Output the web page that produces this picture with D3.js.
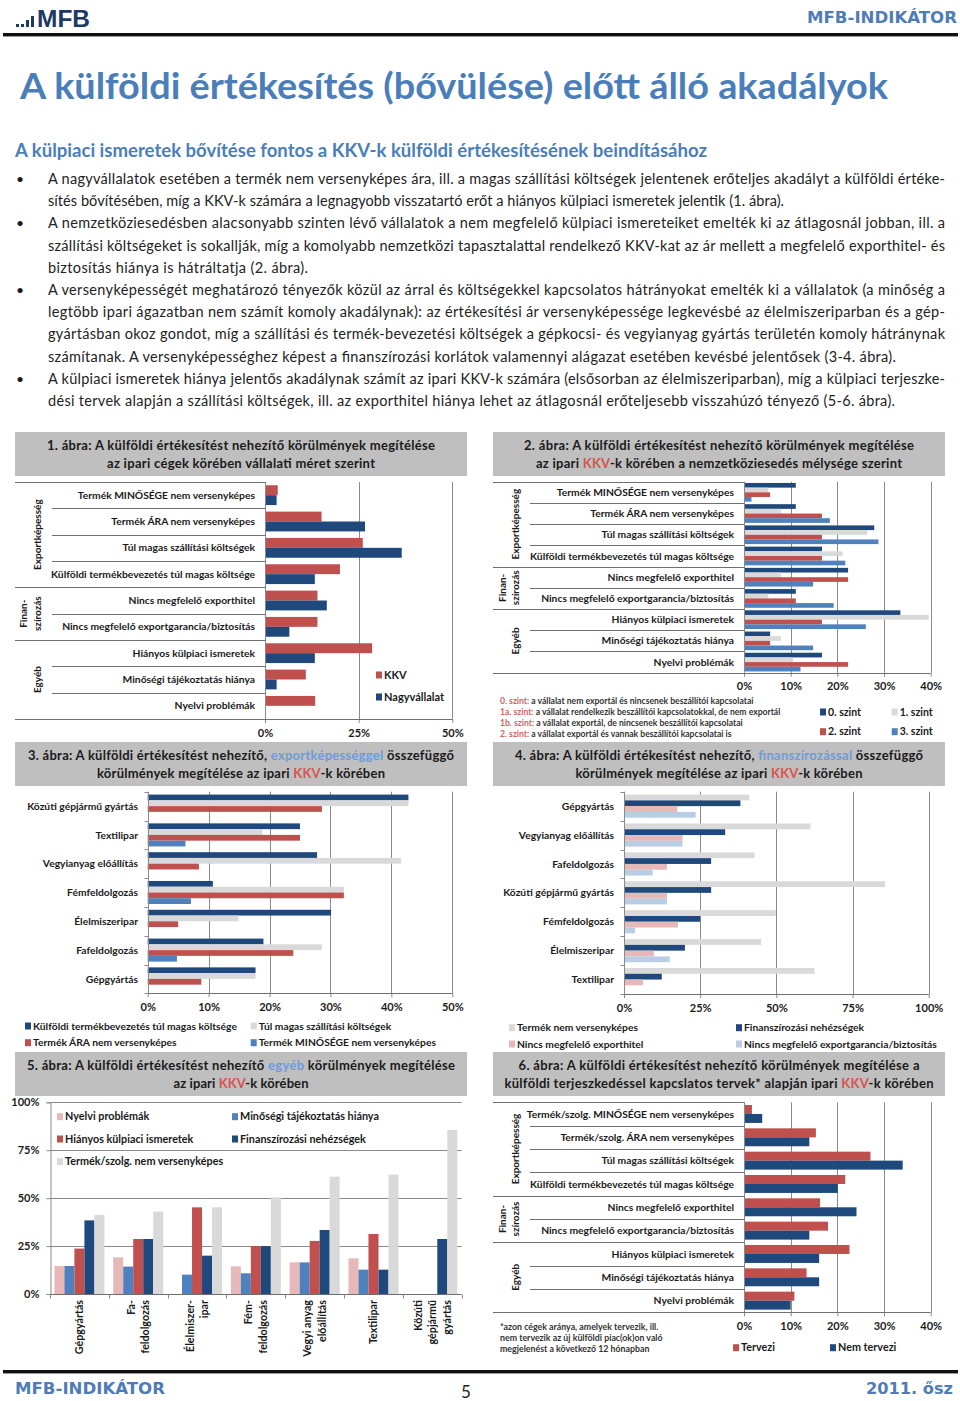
<!DOCTYPE html>
<html><head><meta charset="utf-8">
<script src="https://cdn.jsdelivr.net/npm/d3@7"></script>
<style>
body{margin:0;background:#fff;}
svg text{font-family:Lato,"Open Sans",sans-serif;}
</style></head>
<body><svg id="page" width="960" height="1401"></svg>
<script>
// ---------------- DATA ----------------
const groupNames = [["Exportképesség"], ["Finan-", "szírozás"], ["Egyéb"]];
const groupSizes = [4, 2, 3];

// Chart 1
const c1Categories = ["Termék MINŐSÉGE nem versenyképes", "Termék ÁRA nem versenyképes", "Túl magas szállítási költségek", "Külföldi termékbevezetés túl magas költsége", "Nincs megfelelő exporthitel", "Nincs megfelelő exportgarancia/biztosítás", "Hiányos külpiaci ismeretek", "Minőségi tájékoztatás hiánya", "Nyelvi problémák"];
const c1SeriesNames = ["KKV", "Nagyvállalat"];
const c1KKV = [3.4, 15.1, 26.1, 20.0, 14.0, 14.0, 28.6, 10.9, 13.4];
const c1Nagy = [3.1, 26.7, 36.5, 13.3, 16.5, 6.5, 13.3, 3.1, 0];
const c1Ticks = [0, 25, 50];

// Chart 2
const c2Categories = c1Categories;
const c2SeriesNames = ["0. szint", "1. szint", "2. szint", "3. szint"];
const c2Level0 = [11.1, 11.1, 27.9, 16.7, 22.3, 11.1, 33.5, 5.6, 16.7];
const c2Level1 = [5.2, 7.9, 26.4, 21.1, 7.9, 5.2, 39.6, 7.9, 10.5];
const c2Level2 = [5.6, 16.7, 16.7, 16.7, 22.3, 11.1, 16.7, 5.6, 22.3];
const c2Level3 = [1.6, 18.4, 28.8, 21.7, 14.8, 19.2, 26.1, 14.8, 12.1];
const c2Ticks = [0, 10, 20, 30, 40];
const c2Notes = [
  ["0. szint:", " a vállalat  nem exportál és nincsenek beszállítói kapcsolatai"],
  ["1a. szint:", " a vállalat  rendelkezik beszállítói kapcsolatokkal,  de nem exportál"],
  ["1b. szint:", " a vállalat  exportál, de nincsenek beszállítói kapcsolatai"],
  ["2. szint:", " a vállalat  exportál és vannak beszállítói kapcsolatai  is"]
];

// Chart 3
const c3Categories = ["Közúti gépjármű gyártás", "Textilipar", "Vegyianyag előállítás", "Fémfeldolgozás", "Élelmiszeripar", "Fafeldolgozás", "Gépgyártás"];
const c3SeriesNames = ["Külföldi termékbevezetés túl magas költsége", "Túl magas szállítási költségek", "Termék ÁRA nem versenyképes", "Termék MINŐSÉGE nem versenyképes"];
const c3Bevezetes = [42.8, 25.0, 27.8, 10.7, 30.1, 19.0, 17.7];
const c3Szallitas = [42.8, 18.8, 41.6, 32.2, 14.9, 28.6, 17.7];
const c3Ar = [28.6, 25.0, 8.4, 32.2, 5.0, 23.9, 8.8];
const c3Minoseg = [0, 6.2, 0, 7.1, 0, 4.8, 0];
const c3Ticks = [0, 10, 20, 30, 40, 50];

// Chart 4
const c4Categories = ["Gépgyártás", "Vegyianyag előállítás", "Fafeldolgozás", "Közúti gépjármű gyártás", "Fémfeldolgozás", "Élelmiszeripar", "Textilipar"];
const c4SeriesNames = ["Termék nem versenyképes", "Finanszírozási nehézségek", "Nincs megfelelő exporthitel", "Nincs megfelelő exportgarancia/biztosítás"];
const c4Termek = [41.1, 61.2, 42.8, 85.7, 49.8, 45.0, 62.5];
const c4Finansz = [38.2, 33.2, 28.6, 28.6, 25.0, 20.0, 12.4];
const c4Exporthitel = [17.5, 19.2, 14.1, 14.1, 17.7, 9.8, 6.2];
const c4Garancia = [23.5, 19.2, 9.4, 14.1, 3.6, 15.0, 0];
const c4Ticks = [0, 25, 50, 75, 100];

// Chart 5
const c5Categories = [["Gépgyártás"], ["Fa-", "feldolgozás"], ["Élelmiszer-", "ipar"], ["Fém-", "feldolgozás"], ["Vegyi anyag", "előállítás"], ["Textilipar"], ["Közúti", "gépjármű", "gyártás"]];
const c5SeriesNames = ["Nyelvi problémák", "Minőségi tájékoztatás hiánya", "Hiányos külpiaci ismeretek", "Finanszírozási nehézségek", "Termék/szolg. nem versenyképes"];
const c5Nyelvi = [14.6, 19.1, 0, 14.4, 16.5, 18.6, 0];
const c5Minosegi = [14.6, 14.3, 10.1, 10.8, 16.5, 12.7, 0];
const c5Hianyos = [23.7, 28.7, 45.2, 25.0, 27.7, 31.3, 0];
const c5Finansz = [38.4, 28.7, 20.0, 25.0, 33.4, 12.7, 28.7];
const c5Termek = [41.2, 43.0, 45.2, 50.4, 61.2, 62.3, 85.6];
const c5Ticks = [0, 25, 50, 75, 100];

// Chart 6
const c6Categories = ["Termék/szolg. MINŐSÉGE nem versenyképes", "Termék/szolg. ÁRA nem versenyképes", "Túl magas szállítási költségek", "Külföldi termékbevezetés túl magas költsége", "Nincs megfelelő exporthitel", "Nincs megfelelő exportgarancia/biztosítás", "Hiányos külpiaci ismeretek", "Minőségi tájékoztatás hiánya", "Nyelvi problémák"];
const c6SeriesNames = ["Tervezi", "Nem tervezi"];
const c6Tervezi = [1.7, 15.4, 27.1, 21.7, 16.3, 18.0, 22.6, 13.4, 10.8];
const c6NemTervezi = [3.9, 14.0, 34.0, 20.1, 24.1, 14.0, 16.1, 16.1, 10.0];
const c6Ticks = [0, 10, 20, 30, 40];
const c6Note = ["*azon cégek aránya,  amelyek tervezik, ill.", "nem tervezik az új külföldi piac(ok)on  való", "megjelenést a következő 12 hónapban"];

// Titles (segments: [text, colourKey])
const chartTitles = [
  [[["1. ábra: A külföldi értékesítést nehezítő körülmények megítélése"]], [["az ipari cégek körében vállalati méret szerint"]]],
  [[["2. ábra: A külföldi értékesítést nehezítő körülmények megítélése"]], [["az ipari "], ["KKV", "r"], ["-k körében a nemzetköziesedés mélysége szerint"]]],
  [[["3. ábra: A külföldi értékesítést nehezítő, "], ["exportképességgel", "b"], [" összefüggő"]], [["körülmények megítélése az ipari "], ["KKV", "r"], ["-k körében"]]],
  [[["4. ábra: A külföldi értékesítést nehezítő, "], ["finanszírozással", "b"], [" összefüggő"]], [["körülmények megítélése az ipari "], ["KKV", "r"], ["-k körében"]]],
  [[["5. ábra: A külföldi értékesítést nehezítő "], ["egyéb", "b"], [" körülmények megítélése"]], [["az ipari "], ["KKV", "r"], ["-k körében"]]],
  [[["6. ábra: A külföldi értékesítést nehezítő körülmények megítélése a"]], [["külföldi terjeszkedéssel kapcslatos tervek* alapján ipari "], ["KKV", "r"], ["-k körében"]]]
];
// printed widths of the title lines (layout)
const chartTitleWidths = [[388, 268], [390, 366], [426, 288], [408, 287], [428, 135], [401, 429]];

const pageTitle = "A külföldi értékesítés (bővülése) előtt álló akadályok";
const pageSubtitle = "A külpiaci ismeretek bővítése fontos a KKV-k külföldi értékesítésének beindításához";
const paraLines = [
  { b: true, t: "A nagyvállalatok esetében a termék nem versenyképes ára, ill. a magas szállítási költségek jelentenek erőteljes akadályt a külföldi értéke-", end: 945 },
  { b: false, t: "sítés bővítésében, míg a KKV-k számára a legnagyobb visszatartó erőt a hiányos külpiaci ismeretek jelentik (1. ábra).", end: 784 },
  { b: true, t: "A nemzetköziesedésben alacsonyabb szinten lévő vállalatok a nem megfelelő külpiaci ismereteiket emelték ki az átlagosnál jobban, ill. a", end: 945 },
  { b: false, t: "szállítási költségeket is sokallják, míg a komolyabb nemzetközi tapasztalattal rendelkező KKV-kat az ár mellett a megfelelő exporthitel- és", end: 945 },
  { b: false, t: "biztosítás hiánya is hátráltatja (2. ábra).", end: 308 },
  { b: true, t: "A versenyképességét meghatározó tényezők közül az árral és költségekkel kapcsolatos hátrányokat emelték ki a vállalatok (a minőség a", end: 945 },
  { b: false, t: "legtöbb ipari ágazatban nem számít komoly akadálynak): az értékesítési ár versenyképessége legkevésbé az élelmiszeriparban és a gép-", end: 945 },
  { b: false, t: "gyártásban okoz gondot, míg a szállítási és termék-bevezetési költségek a gépkocsi- és vegyianyag gyártás területén komoly hátránynak", end: 945 },
  { b: false, t: "számítanak. A versenyképességhez képest a finanszírozási korlátok valamennyi alágazat esetében kevésbé jelentősek (3-4. ábra).", end: 896 },
  { b: true, t: "A külpiaci ismeretek hiánya jelentős akadálynak számít az ipari KKV-k számára (elsősorban az élelmiszeriparban), míg a külpiaci terjeszke-", end: 945 },
  { b: false, t: "dési tervek alapján a szállítási költségek, ill. az exporthitel hiánya lehet az átlagosnál erőteljesebb visszahúzó tényező (5-6. ábra).", end: 895 }
];

// ---------------- STYLE ----------------
const NAVY = "#1f497d", RED = "#c0504d", BLUE = "#4f81bd", LGRAY = "#d9d9d9", PINK = "#e6b9b8", LBLUE = "#b9cde5";
const TXT = "#1a1a1a", LINE = "#8a8a8a", TITLEBG = "#bfbfbf", HEAD = "#4a7ebb", KKVRED = "#d9534f", TBLUE = "#6d9bd6";
const LABEL = 10.3, GROUP = 10;
const segColor = { r: KKVRED, b: TBLUE };

const svg = d3.select("#page");
svg.append("rect").attr("width", 960).attr("height", 1401).attr("fill", "#fff");

function fit(t, maxW) {
  const w = t.node().getComputedTextLength();
  if (w > maxW) t.attr("textLength", maxW).attr("lengthAdjust", "spacingAndGlyphs");
}
function txt(g, x, y, s, size, weight, anchor, fill) {
  return g.append("text").attr("x", x).attr("y", y).attr("font-size", size).attr("font-weight", weight || 700)
    .attr("text-anchor", anchor || "start").attr("fill", fill || TXT).text(s);
}

// ---------------- HEADER ----------------
[[16, 3], [21, 3], [26, 7], [31, 11]].forEach(([x, h]) => svg.append("rect").attr("x", x).attr("y", 27 - h).attr("width", 3).attr("height", h).attr("fill", "#1f3864"));
const logo = svg.append("text").attr("x", 37).attr("y", 27).attr("font-size", 23).attr("font-weight", 700)
  .attr("fill", "#1f3864").style("font-family", "'Liberation Sans',Arial,sans-serif").text("MFB");
logo.attr("textLength", 53).attr("lengthAdjust", "spacingAndGlyphs");
const hdr = svg.append("text").attr("x", 957).attr("y", 23).attr("font-size", 15).attr("font-weight", 700).attr("text-anchor", "end")
  .attr("fill", "#4f7cb8").style("font-family", "'DejaVu Sans',sans-serif").text("MFB-INDIKÁTOR");
hdr.attr("textLength", 150).attr("lengthAdjust", "spacingAndGlyphs");
svg.append("rect").attr("x", 3).attr("y", 33).attr("width", 955).attr("height", 3).attr("fill", "#111");
svg.append("rect").attr("x", 3).attr("y", 36).attr("width", 955).attr("height", 1).attr("fill", "#9a9a9a");

const tt = txt(svg, 20, 99, pageTitle, 37, 700, "start", HEAD);
tt.attr("textLength", 868).attr("lengthAdjust", "spacingAndGlyphs");
const st = txt(svg, 15, 157, pageSubtitle, 18, 700, "start", HEAD);
st.attr("textLength", 692).attr("lengthAdjust", "spacingAndGlyphs");

paraLines.forEach((l, i) => {
  const y = 184 + i * 22.2;
  if (l.b) txt(svg, 20, y, "•", 14, 400, "middle", TXT);
  const t = txt(svg, 48, y, l.t, 14.5, 400, "start", "#222");
  t.attr("textLength", l.end - 48).attr("lengthAdjust", "spacing");
});

// ---------------- HELPERS ----------------
function titleBox(x, y, w, h, lines, widths) {
  svg.append("rect").attr("x", x).attr("y", y).attr("width", w).attr("height", h).attr("fill", TITLEBG);
  lines.forEach((segs, i) => {
    const t = svg.append("text").attr("x", x + w / 2).attr("y", y + 17.5 + i * 18).attr("text-anchor", "middle")
      .attr("font-size", 13).attr("font-weight", 700).attr("fill", TXT);
    segs.forEach(s => t.append("tspan").attr("fill", s[1] ? segColor[s[1]] : TXT).text(s[0]));
    const nat = t.node().getComputedTextLength();
    const target = widths[i];
    t.attr("textLength", target).attr("lengthAdjust", nat > target ? "spacingAndGlyphs" : "spacing");
  });
}

function legend(names, colors, cols, rows, size) {
  names.forEach((n, i) => {
    const cx = cols[i % cols.length], cy = rows[Math.floor(i / cols.length)];
    svg.append("rect").attr("x", cx).attr("y", cy - 3.5).attr("width", 6).attr("height", 7).attr("fill", colors[i]);
    txt(svg, cx + 8, cy, n, size || 11, 700).attr("dy", "0.35em");
  });
}

function hbar(o) {
  const n = o.categories.length;
  const x = d3.scaleLinear().domain([0, o.max]).range([o.x0, o.x1]);
  const y = d3.scaleBand().domain(d3.range(n)).range([o.yTop, o.yBottom]);
  const ys = d3.scaleBand().domain(d3.range(o.series.length)).range([0, y.bandwidth()]).paddingOuter(o.po);
  const g = svg.append("g");
  g.selectAll(null).data(o.ticks.filter(t => t > 0)).join("line")
    .attr("x1", d => Math.round(x(d)) + 0.5).attr("x2", d => Math.round(x(d)) + 0.5)
    .attr("y1", o.yTop).attr("y2", o.yBottom).attr("stroke", LINE);
  o.series.forEach((s, si) => {
    g.selectAll(null).data(s.values).join("rect")
      .attr("x", x(0)).attr("y", (d, i) => y(i) + ys(si))
      .attr("width", d => x(d) - x(0)).attr("height", ys.bandwidth()).attr("fill", s.color);
  });
  const x0 = Math.round(x(0)) + 0.5;
  g.append("line").attr("x1", x0).attr("x2", x0).attr("y1", o.yTop).attr("y2", o.yBottom).attr("stroke", LINE);
  const ax = g.append("g").attr("transform", `translate(0,${o.yBottom})`)
    .call(d3.axisBottom(x).tickValues(o.ticks).tickFormat(d => d + "%").tickSize(4).tickPadding(6));
  ax.select(".domain").remove();
  ax.selectAll("line").attr("stroke", LINE);
  ax.selectAll("text").attr("font-size", 11).attr("font-weight", 700).attr("fill", TXT).attr("font-family", null);
  g.append("line").attr("x1", o.axisLeft).attr("x2", x(o.max)).attr("y1", Math.round(o.yBottom) + 0.5).attr("y2", Math.round(o.yBottom) + 0.5).attr("stroke", "#6f6f6f");
  g.selectAll(null).data(o.categories).join("text")
    .attr("x", o.labelX).attr("y", (d, i) => y(i) + y.bandwidth() / 2).attr("dy", "0.35em")
    .attr("text-anchor", "end").attr("font-size", LABEL).attr("font-weight", 700).attr("fill", TXT).text(d => d);
  if (o.groups) {
    const starts = [0];
    o.groupSizes.forEach(s => starts.push(starts[starts.length - 1] + s));
    d3.range(n).forEach(i => {
      const yy = Math.round(y(i)) + 0.5;
      const full = starts.includes(i);
      g.append("line").attr("x1", full ? o.fullLeft : o.innerLeft).attr("x2", x0).attr("y1", yy).attr("y2", yy).attr("stroke", "#6f6f6f");
    });
    o.groupSizes.forEach((sz, gi) => {
      const a = y(starts[gi]);
      const b = starts[gi + 1] < n ? y(starts[gi + 1]) : o.yBottom;
      const cy = (a + b) / 2;
      const names = o.groups[gi];
      names.forEach((nm, li) => {
        const cx = names.length === 1 ? o.groupX[1] : o.groupX[li];
        g.append("text").attr("transform", `translate(${cx},${cy}) rotate(-90)`).attr("text-anchor", "middle")
          .attr("dy", "0.35em").attr("font-size", GROUP).attr("font-weight", 700).attr("fill", TXT).text(nm);
      });
    });
  } else {
    d3.range(n + 1).forEach(i => {
      const yy = Math.round(i < n ? y(i) : o.yBottom) + 0.5;
      g.append("line").attr("x1", x0 - 4).attr("x2", x0).attr("y1", yy).attr("y2", yy).attr("stroke", LINE);
    });
  }
  return { x, y };
}

// ---------------- CHART 1 ----------------
titleBox(15, 432, 452, 44, chartTitles[0], chartTitleWidths[0]);
hbar({
  categories: c1Categories, max: 50, ticks: c1Ticks, x0: 265, x1: 452.3, yTop: 482, yBottom: 719, po: 0.33,
  series: [{ values: c1KKV, color: RED }, { values: c1Nagy, color: NAVY }],
  labelX: 255, axisLeft: 15, fullLeft: 15, innerLeft: 52, groups: groupNames, groupSizes: groupSizes, groupX: [23, 37]
});
legend(c1SeriesNames, [RED, NAVY], [376], [675, 697], 11);

// ---------------- CHART 2 ----------------
titleBox(493, 432, 452, 44, chartTitles[1], chartTitleWidths[1]);
hbar({
  categories: c2Categories, max: 40, ticks: c2Ticks, x0: 744, x1: 930.7, yTop: 481.7, yBottom: 672.7, po: 0.27,
  series: [{ values: c2Level0, color: NAVY }, { values: c2Level1, color: LGRAY }, { values: c2Level2, color: RED }, { values: c2Level3, color: BLUE }],
  labelX: 734, axisLeft: 493, fullLeft: 493, innerLeft: 530, groups: groupNames, groupSizes: groupSizes, groupX: [502, 515.5]
});
c2Notes.forEach((nt, i) => {
  const t = svg.append("text").attr("x", 500).attr("y", [700.7, 711.7, 723.3, 734][i]).attr("dy", "0.35em")
    .attr("font-size", 8.6).attr("font-weight", 700).attr("fill", "#333");
  t.append("tspan").attr("fill", "#d0665f").text(nt[0]);
  t.append("tspan").text(nt[1]);
});
legend(c2SeriesNames, [NAVY, LGRAY, RED, BLUE], [820, 891.7], [712, 731.7], 10.5);

// ---------------- CHART 3 ----------------
titleBox(15, 742, 452, 44, chartTitles[2], chartTitleWidths[2]);
hbar({
  categories: c3Categories, max: 50, ticks: c3Ticks, x0: 147.7, x1: 452.3, yTop: 791.7, yBottom: 993.3, po: 0.5,
  series: [{ values: c3Bevezetes, color: NAVY }, { values: c3Szallitas, color: LGRAY }, { values: c3Ar, color: RED }, { values: c3Minoseg, color: BLUE }],
  labelX: 138, axisLeft: 147.7
});
legend(c3SeriesNames, [NAVY, LGRAY, RED, BLUE], [25, 250.7], [1026, 1042.7], 10.3);

// ---------------- CHART 4 ----------------
titleBox(493, 742, 452, 44, chartTitles[3], chartTitleWidths[3]);
hbar({
  categories: c4Categories, max: 100, ticks: c4Ticks, x0: 624, x1: 928.7, yTop: 791.7, yBottom: 994, po: 0.5,
  series: [{ values: c4Termek, color: LGRAY }, { values: c4Finansz, color: NAVY }, { values: c4Exporthitel, color: PINK }, { values: c4Garancia, color: LBLUE }],
  labelX: 614, axisLeft: 624
});
legend(c4SeriesNames, [LGRAY, NAVY, PINK, LBLUE], [509, 736], [1027.7, 1044], 10.3);

// ---------------- CHART 5 ----------------
titleBox(15, 1052, 452, 44, chartTitles[4], chartTitleWidths[4]);
(function () {
  const g = svg.append("g");
  const x = d3.scaleBand().domain(d3.range(c5Categories.length)).range([50, 461.7]);
  const xs = d3.scaleBand().domain(d3.range(5)).range([0, x.bandwidth()]).paddingOuter(0.44);
  const y = d3.scaleLinear().domain([0, 100]).range([1294, 1102.3]);
  g.selectAll(null).data(c5Ticks.filter(t => t > 0)).join("line")
    .attr("x1", 50).attr("x2", 461.7).attr("y1", d => Math.round(y(d)) + 0.5).attr("y2", d => Math.round(y(d)) + 0.5).attr("stroke", LINE);
  const series = [c5Nyelvi, c5Minosegi, c5Hianyos, c5Finansz, c5Termek];
  const colors = [PINK, BLUE, RED, NAVY, LGRAY];
  series.forEach((vals, si) => {
    g.selectAll(null).data(vals).join("rect")
      .attr("x", (d, i) => x(i) + xs(si)).attr("y", d => y(d)).attr("width", xs.bandwidth())
      .attr("height", d => y(0) - y(d)).attr("fill", colors[si]);
  });
  const ay = g.append("g").attr("transform", "translate(50.5,0)")
    .call(d3.axisLeft(y).tickValues(c5Ticks).tickFormat(d => d + "%").tickSize(4).tickPadding(7));
  ay.select(".domain").attr("stroke", LINE);
  ay.selectAll("line").attr("stroke", LINE);
  ay.selectAll("text").attr("font-size", 11).attr("font-weight", 700).attr("fill", TXT).attr("font-family", null);
  const yb = Math.round(y(0)) + 0.5;
  g.append("line").attr("x1", 50).attr("x2", 461.7).attr("y1", yb).attr("y2", yb).attr("stroke", "#6f6f6f");
  d3.range(c5Categories.length + 1).forEach(i => {
    const xx = Math.round(i < c5Categories.length ? x(i) : 461.7) + 0.5;
    g.append("line").attr("x1", xx).attr("x2", xx).attr("y1", yb).attr("y2", yb + 4).attr("stroke", LINE);
  });
  c5Categories.forEach((lines, i) => {
    const cx = x(i) + x.bandwidth() / 2;
    lines.forEach((ln, li) => {
      const off = (li - (lines.length - 1) / 2) * 14.5;
      g.append("text").attr("transform", `translate(${cx + off},1300) rotate(-90)`).attr("text-anchor", "end")
        .attr("dy", "0.35em").attr("font-size", LABEL + 0.4).attr("font-weight", 700).attr("fill", TXT).text(ln);
    });
  });
  legend(c5SeriesNames, colors, [57, 232], [1116.7, 1139, 1161.7], 10.8);
})();

// ---------------- CHART 6 ----------------
titleBox(493, 1052, 452, 44, chartTitles[5], chartTitleWidths[5]);
hbar({
  categories: c6Categories, max: 40, ticks: c6Ticks, x0: 744, x1: 930.7, yTop: 1102.3, yBottom: 1312.3, po: 0.3,
  series: [{ values: c6Tervezi, color: RED }, { values: c6NemTervezi, color: NAVY }],
  labelX: 734, axisLeft: 493, fullLeft: 493, innerLeft: 530, groups: groupNames, groupSizes: groupSizes, groupX: [502, 515.5]
});
c6Note.forEach((s, i) => txt(svg, 500, [1327, 1338, 1349][i], s, 8.8, 700, "start", "#333").attr("dy", "0.35em"));
legend(c6SeriesNames, [RED, NAVY], [733, 830], [1347.7], 10.8);

// ---------------- FOOTER ----------------
svg.append("rect").attr("x", 3).attr("y", 1370).attr("width", 955).attr("height", 3).attr("fill", "#111");
svg.append("rect").attr("x", 3).attr("y", 1373).attr("width", 955).attr("height", 1).attr("fill", "#9a9a9a");
const f1 = svg.append("text").attr("x", 15).attr("y", 1394).attr("font-size", 15).attr("font-weight", 700)
  .attr("fill", "#4f7cb8").style("font-family", "'DejaVu Sans',sans-serif").text("MFB-INDIKÁTOR");
f1.attr("textLength", 150).attr("lengthAdjust", "spacingAndGlyphs");
svg.append("text").attr("x", 466).attr("y", 1398).attr("font-size", 17).attr("font-weight", 400).attr("text-anchor", "middle")
  .attr("fill", "#222").text("5");
const f2 = svg.append("text").attr("x", 953).attr("y", 1394).attr("font-size", 15).attr("font-weight", 700).attr("text-anchor", "end")
  .attr("fill", "#4f7cb8").style("font-family", "'DejaVu Sans',sans-serif").text("2011. ősz");
f2.attr("textLength", 87).attr("lengthAdjust", "spacingAndGlyphs");
</script></body></html>
